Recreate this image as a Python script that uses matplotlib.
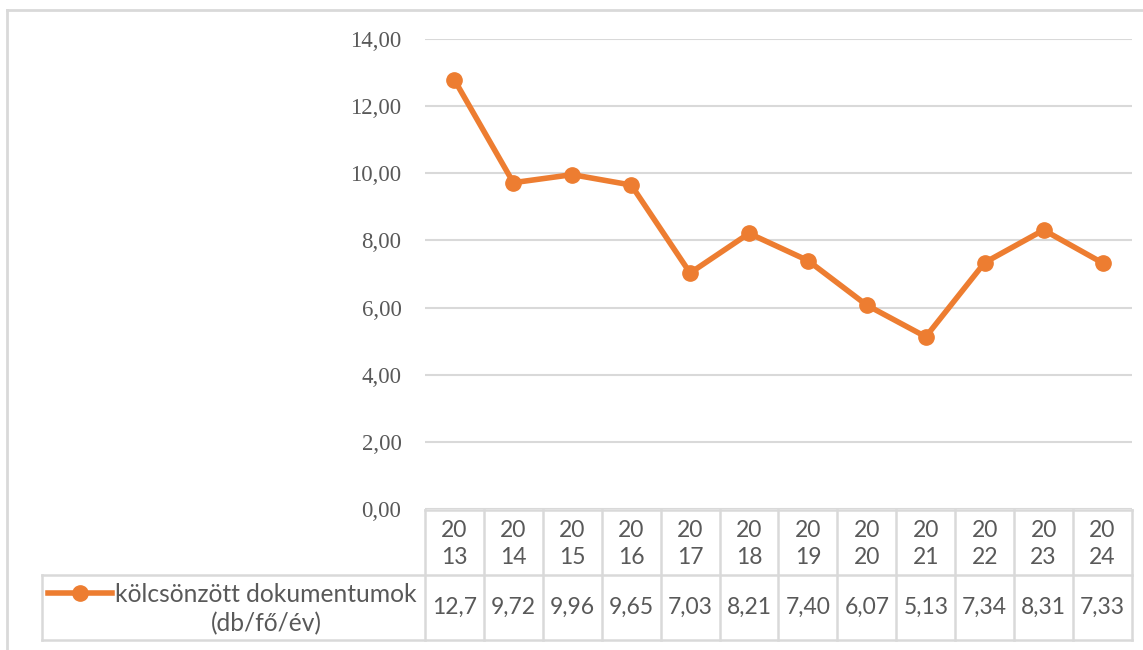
import numpy as np
import matplotlib
matplotlib.use("Agg")
from matplotlib import pyplot as plt
from matplotlib.lines import Line2D

# data
years = ["2013", "2014", "2015", "2016", "2017", "2018",
         "2019", "2020", "2021", "2022", "2023", "2024"]
values = [12.78, 9.72, 9.96, 9.65, 7.03, 8.21, 7.40, 6.07, 5.13, 7.34, 8.31, 7.33]
value_labels = ["12,7", "9,72", "9,96", "9,65", "7,03", "8,21",
                "7,40", "6,07", "5,13", "7,34", "8,31", "7,33"]
series_name = "kölcsönzött dokumentumok\n(db/fő/év)"
y_ticks = [0, 2, 4, 6, 8, 10, 12, 14]

ORANGE = "#ED7D31"
GRID = "#D9D9D9"
TEXT = "#595959"
W, H = 1143, 650

fig = plt.figure(figsize=(W / 100, H / 100), dpi=100)


def fx(px):
    return px / W


def fy(py):
    return 1 - py / H


# --- chart area ---
ax = fig.add_axes([fx(425), fy(509), fx(1132 - 425), (509 - 39) / H])
x = np.arange(len(years))
ax.plot(x, values, color=ORANGE, lw=4, marker="o", ms=11, zorder=3,
        solid_capstyle="round")
ax.set_xlim(-0.5, len(years) - 0.5)
ax.set_ylim(0, 14)
ax.set_yticks(y_ticks)
ax.set_yticklabels([f"{v:.2f}".replace(".", ",") for v in y_ticks],
                   family="Liberation Serif", fontsize=16.5, color=TEXT)
ax.tick_params(axis="y", length=0, pad=17)
ax.set_xticks([])
ax.grid(axis="y", color=GRID, lw=1.5)
ax.set_axisbelow(True)
for s in ax.spines.values():
    s.set_visible(False)

# --- data table below ---
tab = fig.add_axes([fx(42), fy(640), fx(1132 - 42), (640 - 510) / H])
tab.set_xlim(-7.0, len(years) - 0.5)
tab.set_ylim(0, 2)
tab.axis("off")
lw = 1.8
for i in range(len(years) + 1):
    tab.plot([i - 0.5, i - 0.5], [0, 2], color=GRID, lw=lw, clip_on=False)
tab.plot([-0.5, len(years) - 0.5], [2, 2], color=GRID, lw=lw, clip_on=False)
for yy in (0, 1):
    tab.plot([-7.0, len(years) - 0.5], [yy, yy], color=GRID, lw=lw, clip_on=False)
tab.plot([-7.0, -7.0], [0, 1], color=GRID, lw=lw, clip_on=False)

for i, yr in enumerate(years):
    tab.text(i, 1.48, yr[:2] + "\n" + yr[2:], ha="center", va="center",
             family="Lato", fontsize=16.5, color=TEXT, linespacing=1.38)
    tab.text(i, 0.5, value_labels[i], ha="center", va="center",
             family="Lato", fontsize=16.5, color=TEXT)

# legend key inside the table
tab.plot([-6.90, -5.81], [0.72, 0.72], color=ORANGE, lw=4, clip_on=False)
tab.plot([-6.355], [0.72], color=ORANGE, marker="o", ms=11, clip_on=False)
tab.text(-3.20, 0.48, series_name, ha="center", va="center",
         family="Lato", fontsize=17.7, color=TEXT, linespacing=1.3)

# outer chart border
fig.add_artist(Line2D([fx(7), 1], [fy(10), fy(10)], color=GRID, lw=2))
fig.add_artist(Line2D([fx(7), fx(7)], [fy(10), 0], color=GRID, lw=2))

plt.savefig("out.png", dpi=100)
